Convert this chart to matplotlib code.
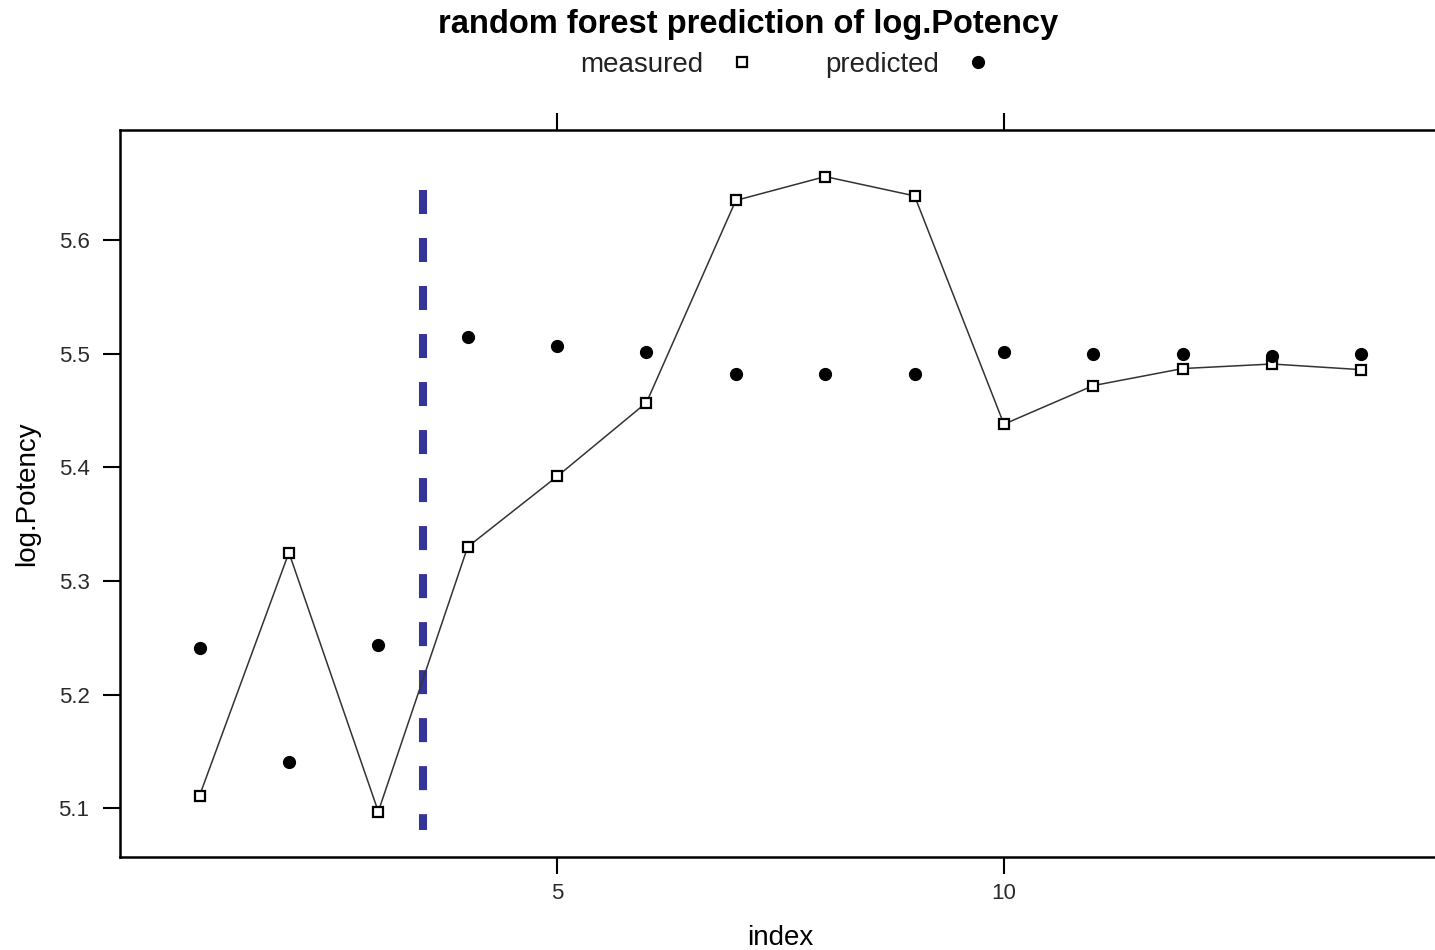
import numpy as np
import matplotlib.pyplot as plt
from matplotlib.lines import Line2D

plt.rcParams['font.family'] = ['Liberation Sans', 'DejaVu Sans']

# data
index = np.arange(1, 15)
measured = [5.111, 5.325, 5.097, 5.330, 5.392, 5.457, 5.635, 5.656, 5.639,
            5.438, 5.472, 5.487, 5.491, 5.486]
predicted = [5.241, 5.141, 5.244, 5.515, 5.507, 5.502, 5.482, 5.482, 5.482,
             5.502, 5.500, 5.500, 5.498, 5.500]
split_at = 3.5
split_range = [5.644, 5.081]  # drawn top -> bottom
xticks = [5, 10]
yticks = [5.1, 5.2, 5.3, 5.4, 5.5, 5.6]

fig = plt.figure(figsize=(14.35, 9.5), dpi=100)
ax = fig.add_axes([120/1435, 1 - 857/950, 1321/1435, 727/950])

ax.plot(index, measured, color='#333333', lw=1.1, marker='s', ms=7.5,
        mfc='white', mec='black', mew=1.6, zorder=3)
ax.plot(index, predicted, ls='none', marker='o', ms=8.5, color='black', zorder=4)
ax.plot([split_at, split_at], split_range, color='#353599', lw=5.8,
        dashes=(2.98, 2.98), solid_capstyle='butt', dash_capstyle='butt', zorder=2)

ax.set_xlim(0.11, 14.89)
ax.set_ylim(5.057, 5.697)

ax.set_xticks(xticks)
ax.set_yticks(yticks)
ax.set_yticklabels([f'{v:.1f}' for v in yticks])
ax.tick_params(axis='both', direction='out', length=12, width=1.5,
               labelsize=16, labelcolor='#2a2a2a')
ax.tick_params(axis='x', top=True, labeltop=False, pad=7)
ax.tick_params(axis='y', right=False, pad=10)
for s in ax.spines.values():
    s.set_linewidth(1.8)

ax.set_xlabel('index', fontsize=20, labelpad=15)
ax.set_ylabel('log.Potency', fontsize=20, labelpad=13)

fig.suptitle('random forest prediction of log.Potency', x=748/1435, y=1 - 25/950,
             va='center', fontsize=23.5, fontweight='bold')

handles = [Line2D([], [], ls='none', marker='s', ms=7.5, mfc='white', mec='black', mew=1.6),
           Line2D([], [], ls='none', marker='o', ms=8.5, color='black')]
fig.legend(handles, ['measured', 'predicted'], loc='center', ncol=2,
           bbox_to_anchor=(786/1435, 1 - 65/950), frameon=False, markerfirst=False,
           fontsize=20, columnspacing=2.5, handletextpad=0.9, handlelength=1.0,
           labelcolor='#222222')

fig.savefig('out.png', dpi=100)
